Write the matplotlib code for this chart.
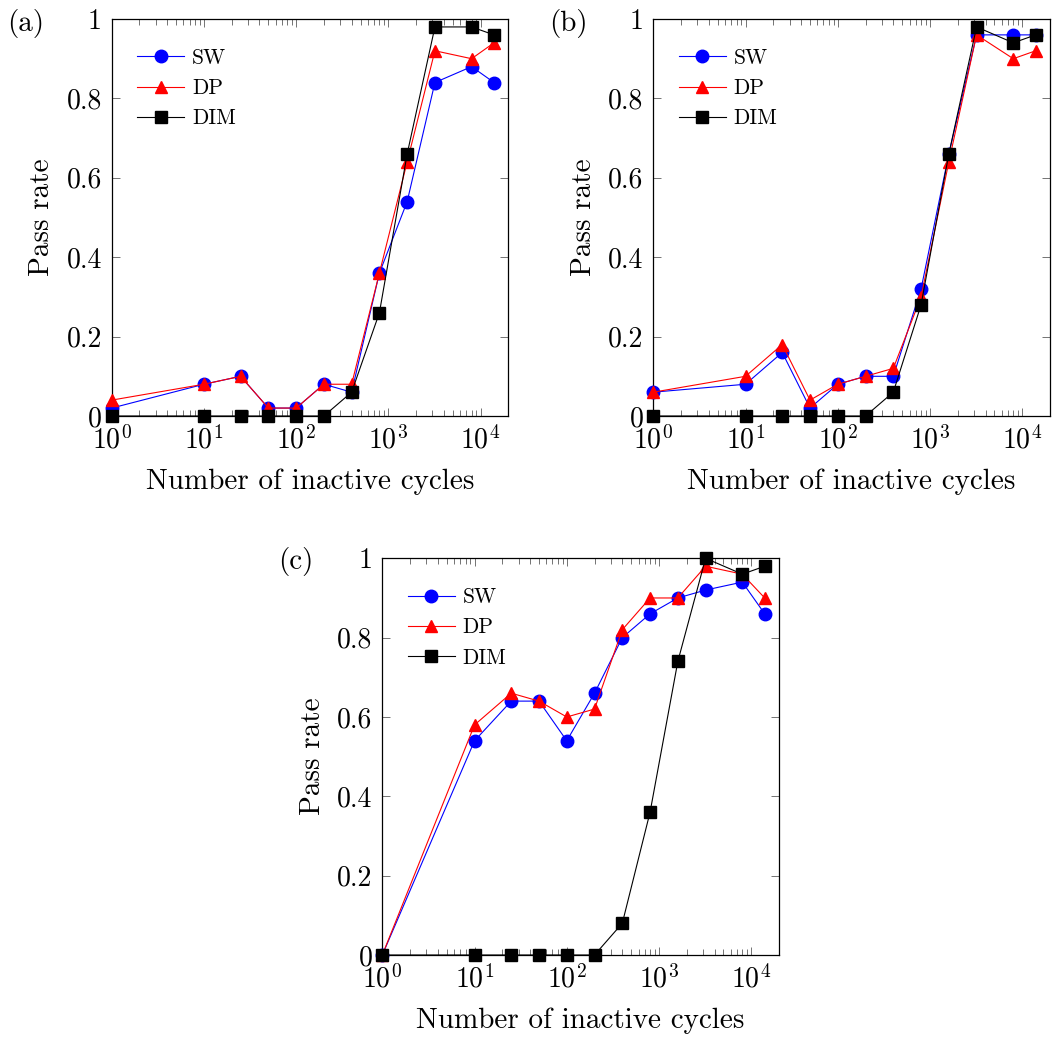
import matplotlib
matplotlib.use("Agg")
import matplotlib.pyplot as plt
from matplotlib.ticker import FixedLocator, FuncFormatter, LogLocator, NullFormatter

plt.rcParams['font.family'] = 'serif'
plt.rcParams['font.serif'] = ['cmr10', 'DejaVu Serif']
plt.rcParams['mathtext.fontset'] = 'cm'
plt.rcParams['axes.formatter.use_mathtext'] = True

# Anzahl inaktiver Zyklen (gemeinsame x-Werte)
cycles = [1, 10, 25, 50, 100, 200, 400, 800, 1600, 3200, 8000, 14000]

# (a)
a_sw = [0.02, 0.08, 0.10, 0.02, 0.02, 0.08, 0.06, 0.36, 0.54, 0.84, 0.88, 0.84]
a_dp = [0.04, 0.08, 0.10, 0.02, 0.02, 0.08, 0.08, 0.36, 0.64, 0.92, 0.90, 0.94]
a_dim = [0, 0, 0, 0, 0, 0, 0.06, 0.26, 0.66, 0.98, 0.98, 0.96]

# (b)
b_sw = [0.06, 0.08, 0.16, 0.02, 0.08, 0.10, 0.10, 0.32, 0.66, 0.96, 0.96, 0.96]
b_dp = [0.06, 0.10, 0.18, 0.04, 0.08, 0.10, 0.12, 0.30, 0.64, 0.96, 0.90, 0.92]
b_dim = [0, 0, 0, 0, 0, 0, 0.06, 0.28, 0.66, 0.98, 0.94, 0.96]

# (c)
c_sw = [0, 0.54, 0.64, 0.64, 0.54, 0.66, 0.80, 0.86, 0.90, 0.92, 0.94, 0.86]
c_dp = [0, 0.58, 0.66, 0.64, 0.60, 0.62, 0.82, 0.90, 0.90, 0.98, 0.96, 0.90]
c_dim = [0, 0, 0, 0, 0, 0, 0.08, 0.36, 0.74, 1.0, 0.96, 0.98]

yticks = [0, 0.2, 0.4, 0.6, 0.8, 1]

W, H = 1052, 1041
fig = plt.figure(figsize=(W / 100, H / 100), dpi=100)


def panel(left, top, right, bottom, sw, dp, dim, tag, tagx, tagy):
    ax = fig.add_axes([left / W, 1 - bottom / H, (right - left) / W, (bottom - top) / H])
    ax.plot(cycles, sw, color='blue', marker='o', markersize=9, linewidth=0.8,
            label='SW', clip_on=False, zorder=3)
    ax.plot(cycles, dp, color='red', marker='^', markersize=8, linewidth=0.8,
            label='DP', clip_on=False, zorder=4)
    ax.plot(cycles, dim, color='black', marker='s', markersize=8, linewidth=0.8,
            label='DIM', clip_on=False, zorder=5)
    ax.set_xscale('log')
    ax.set_xlim(1, 2e4)
    ax.set_ylim(0, 1)
    ax.xaxis.set_major_locator(LogLocator(base=10, numticks=10))
    ax.xaxis.set_minor_locator(LogLocator(base=10, subs=range(2, 10), numticks=20))
    ax.xaxis.set_minor_formatter(NullFormatter())
    ax.yaxis.set_major_locator(FixedLocator(yticks))
    ax.yaxis.set_major_formatter(FuncFormatter(lambda v, p: '%g' % v))
    ax.tick_params(which='both', direction='in', top=True, right=True,
                   color='0.45', width=0.7, labelsize=20, pad=7)
    ax.tick_params(which='major', length=6)
    ax.tick_params(which='minor', length=4)
    for s in ax.spines.values():
        s.set_linewidth(0.9)
    ax.set_xlabel('Number of inactive cycles', fontsize=21, labelpad=10)
    ax.set_ylabel('Pass rate', fontsize=21, labelpad=8)
    ax.legend(loc='upper left', frameon=False, fontsize=15.5, handlelength=2.2,
              handletextpad=0.35, labelspacing=0.5, borderaxespad=0.5,
              bbox_to_anchor=(0.015, 0.975))
    fig.text(tagx / W, 1 - tagy / H, tag, fontsize=21, ha='left', va='center')
    return ax


panel(111.7, 19, 508.3, 416, a_sw, a_dp, a_dim, '(a)', 7, 23)
panel(653.3, 19, 1050, 416, b_sw, b_dp, b_dim, '(b)', 549, 23)
panel(382.3, 558.3, 779, 955, c_sw, c_dp, c_dim, '(c)', 278, 562)

fig.savefig('out.png', dpi=100)
